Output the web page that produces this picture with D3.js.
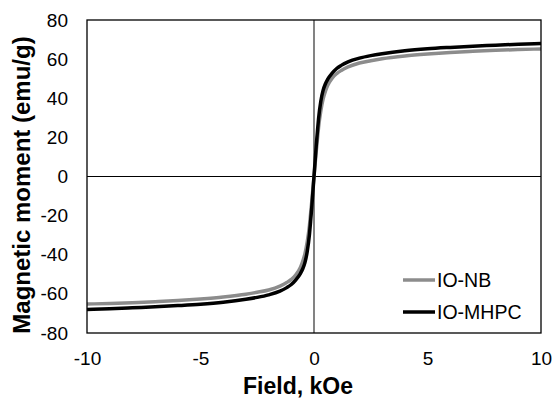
<!DOCTYPE html>
<html>
<head>
<meta charset="utf-8">
<script src="https://cdn.jsdelivr.net/npm/d3@7/dist/d3.min.js"></script>
<style>
  html, body { margin: 0; padding: 0; background: #fff; }
  svg { display: block; font-family: "Liberation Sans", Arial, sans-serif; }
</style>
</head>
<body>
<svg id="chart" width="555" height="400"></svg>
<script>
// Applied field (kOe), positive branch; curves are odd in field
const fieldPos = [0, 0.05, 0.1, 0.15, 0.2, 0.3, 0.4, 0.5, 0.6, 0.8, 1, 1.2, 1.5, 2, 2.5, 3, 4, 5, 6, 7, 8, 9, 10];
// Magnetization (emu/g) on the positive branch
const momentNB   = [0, 6.5, 13, 19, 25, 33.5, 39.5, 43.5, 46.5, 50.3, 52.6, 54.2, 56, 58, 59.2, 60.2, 61.6, 62.6, 63.4, 64, 64.5, 64.9, 65.2];
const momentMHPC = [0, 8, 16, 23, 29.5, 38.5, 44, 47.3, 49.6, 52.8, 55.2, 56.8, 58.6, 60.5, 61.8, 62.8, 64.3, 65.3, 66, 66.6, 67.1, 67.6, 68];

const seriesNames = ["IO-NB", "IO-MHPC"];
const seriesColors = ["#8c8c8c", "#000000"];
const xTicks = [-10, -5, 0, 5, 10];
const yTicks = [-80, -60, -40, -20, 0, 20, 40, 60, 80];

// full loop from -10 to +10 kOe
function fullCurve(values) {
  const neg = fieldPos.slice(1).map((h, i) => ({ h: -h, m: -values[i + 1] })).reverse();
  const pos = fieldPos.map((h, i) => ({ h: h, m: values[i] }));
  return neg.concat(pos);
}
const series = [fullCurve(momentNB), fullCurve(momentMHPC)];

const svg = d3.select("#chart");
const plotLeft = 87, plotRight = 541, plotTop = 20, plotBottom = 333;

const x = d3.scaleLinear().domain([-10, 10]).range([plotLeft, plotRight]);
const y = d3.scaleLinear().domain([-80, 80]).range([plotBottom, plotTop]);

// zero lines through the origin
svg.append("line")
  .attr("x1", plotLeft).attr("x2", plotRight)
  .attr("y1", y(0)).attr("y2", y(0))
  .attr("stroke", "#000").attr("stroke-width", 1);
svg.append("line")
  .attr("x1", x(0)).attr("x2", x(0))
  .attr("y1", plotTop).attr("y2", plotBottom)
  .attr("stroke", "#404040").attr("stroke-width", 1.3);

// curves
const line = d3.line()
  .x(d => x(d.h))
  .y(d => y(d.m))
  .curve(d3.curveMonotoneX);

series.forEach((s, i) => {
  svg.append("path")
    .datum(s)
    .attr("fill", "none")
    .attr("stroke", seriesColors[i])
    .attr("stroke-width", 3.5)
    .attr("stroke-linejoin", "round")
    .attr("d", line);
});

// plot frame
svg.append("rect")
  .attr("x", plotLeft).attr("y", plotTop)
  .attr("width", plotRight - plotLeft).attr("height", plotBottom - plotTop)
  .attr("fill", "none").attr("stroke", "#000").attr("stroke-width", 1.3);

const plainFormat = d => String(d);

// y tick labels
const yAxis = d3.axisLeft(y).tickValues(yTicks).tickSize(0).tickPadding(19).tickFormat(plainFormat);
const gy = svg.append("g").attr("transform", `translate(${plotLeft},0)`).call(yAxis);
gy.select(".domain").remove();
gy.selectAll("text")
  .attr("font-family", "Liberation Sans, Arial, sans-serif")
  .attr("font-size", 19).attr("fill", "#000");

// x tick labels
const xAxis = d3.axisBottom(x).tickValues(xTicks).tickSize(0).tickPadding(19).tickFormat(plainFormat);
const gx = svg.append("g").attr("transform", `translate(0,${plotBottom})`).call(xAxis);
gx.select(".domain").remove();
gx.selectAll("text")
  .attr("font-family", "Liberation Sans, Arial, sans-serif")
  .attr("font-size", 19).attr("fill", "#000");

// axis titles
svg.append("text")
  .attr("x", 298).attr("y", 394)
  .attr("text-anchor", "middle")
  .attr("font-size", 23).attr("font-weight", "bold")
  .text("Field, kOe");

svg.append("text")
  .attr("transform", "translate(29.5,185) rotate(-90)")
  .attr("text-anchor", "middle")
  .attr("font-size", 24).attr("font-weight", "bold")
  .text("Magnetic moment (emu/g)");

// legend
const legend = svg.append("g");
seriesNames.forEach((name, i) => {
  const ly = 280 + i * 32;
  legend.append("line")
    .attr("x1", 403).attr("x2", 435)
    .attr("y1", ly).attr("y2", ly)
    .attr("stroke", seriesColors[i]).attr("stroke-width", 3.5);
  legend.append("text")
    .attr("x", 437).attr("y", ly + 7)
    .attr("font-size", 19.5)
    .text(name);
});
</script>
</body>
</html>
